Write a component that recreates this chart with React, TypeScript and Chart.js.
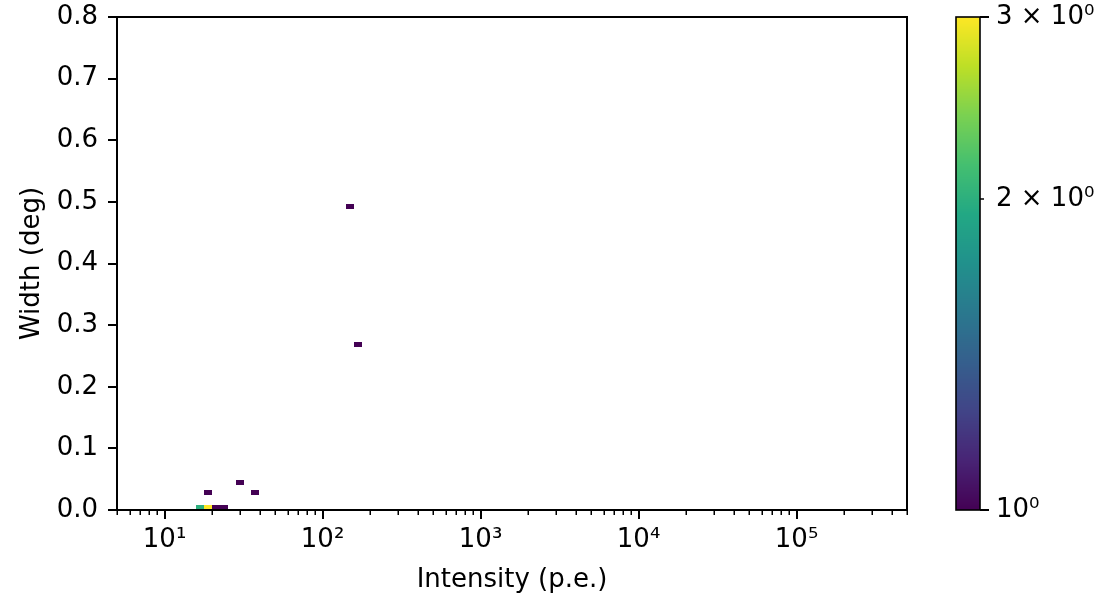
import React, { useEffect, useRef } from "react";
import { Chart, registerables } from "chart.js";

Chart.register(...registerables);

// ---- Data: 2D histogram cells (non-empty bins) ----
const intensityLow = [15.8, 17.8, 19.9, 22.4, 17.8, 28.2, 35.5, 141, 158];
const intensityHigh = [17.8, 19.9, 22.4, 25.1, 19.9, 31.6, 39.8, 158, 178];
const widthLow = [0, 0, 0, 0, 0.024, 0.04, 0.024, 0.488, 0.264];
const widthHigh = [0.008, 0.008, 0.008, 0.008, 0.032, 0.048, 0.032, 0.496, 0.272];
const counts = [2, 3, 1, 1, 1, 1, 1, 1, 1];

// ---- Axes ----
const xMin = 5;
const xMax = 500000;
const yMin = 0;
const yMax = 0.8;
const xMajorTicks = [10, 100, 1000, 10000, 100000];
const xTickLabels = ["10¹", "10²", "10³", "10⁴", "10⁵"];
const yTicks = [0, 0.1, 0.2, 0.3, 0.4, 0.5, 0.6, 0.7, 0.8];
const yTickLabels = ["0.0", "0.1", "0.2", "0.3", "0.4", "0.5", "0.6", "0.7", "0.8"];
const cMin = 1;
const cMax = 3;
const cbarTicks = [1, 2, 3];
const cbarTickLabels = ["10⁰", "2 × 10⁰", "3 × 10⁰"];
const xTitle = "Intensity (p.e.)";
const yTitle = "Width (deg)";

const FONT = "'DejaVu Sans', 'Liberation Sans', sans-serif";
const FS = 26;

const VIRIDIS = [
  "#440154", "#482475", "#414487", "#355f8d", "#2a788e", "#21918c",
  "#22a884", "#44bf70", "#7ad151", "#bddf26", "#fde725",
];
function hexToRgb(h: string) {
  return [parseInt(h.slice(1, 3), 16), parseInt(h.slice(3, 5), 16), parseInt(h.slice(5, 7), 16)];
}
function viridis(t: number) {
  const tt = Math.max(0, Math.min(1, t));
  const s = tt * (VIRIDIS.length - 1);
  const i = Math.min(VIRIDIS.length - 2, Math.floor(s));
  const f = s - i;
  const a = hexToRgb(VIRIDIS[i]);
  const b = hexToRgb(VIRIDIS[i + 1]);
  const c = a.map((v, k) => Math.round(v + (b[k] - v) * f));
  return `rgb(${c[0]},${c[1]},${c[2]})`;
}
function norm(v: number) {
  return Math.log(v / cMin) / Math.log(cMax / cMin);
}

function minorLogTicks(min: number, max: number) {
  const out: number[] = [];
  for (let d = Math.floor(Math.log10(min)); d <= Math.ceil(Math.log10(max)); d++) {
    for (let k = 2; k <= 9; k++) {
      const v = k * Math.pow(10, d);
      if (v >= min && v <= max) out.push(v);
    }
  }
  return out;
}

function zeroPad(s: any) {
  s.paddingTop = 0;
  s.paddingBottom = 0;
  s.paddingLeft = 0;
  s.paddingRight = 0;
}

const heatPlugin = {
  id: "heat",
  beforeDatasetsDraw(chart: any) {
    const { ctx, chartArea, scales } = chart;
    const x = scales.x;
    const y = scales.y;
    ctx.save();
    ctx.beginPath();
    ctx.rect(chartArea.left, chartArea.top, chartArea.right - chartArea.left, chartArea.bottom - chartArea.top);
    ctx.clip();
    for (let i = 0; i < counts.length; i++) {
      const x0 = Math.round(x.getPixelForValue(intensityLow[i]));
      const x1 = Math.round(x.getPixelForValue(intensityHigh[i]));
      const y0 = Math.round(y.getPixelForValue(widthHigh[i]));
      const y1 = Math.round(y.getPixelForValue(widthLow[i]));
      ctx.fillStyle = viridis(norm(counts[i]));
      ctx.fillRect(x0, y0, x1 - x0, y1 - y0);
    }
    ctx.restore();
  },
  afterDraw(chart: any) {
    const { ctx, chartArea, scales } = chart;
    const x = scales.x;
    const y = scales.y;
    ctx.save();
    ctx.strokeStyle = "#000";
    ctx.lineWidth = 2;
    for (const v of xMajorTicks) {
      const px = Math.round(x.getPixelForValue(v));
      ctx.beginPath();
      ctx.moveTo(px, chartArea.bottom);
      ctx.lineTo(px, chartArea.bottom + 9);
      ctx.stroke();
    }
    for (const v of yTicks) {
      const py = Math.round(y.getPixelForValue(v));
      ctx.beginPath();
      ctx.moveTo(chartArea.left, py);
      ctx.lineTo(chartArea.left - 9, py);
      ctx.stroke();
    }
    ctx.lineWidth = 1.5;
    for (const v of minorLogTicks(xMin, xMax)) {
      if (xMajorTicks.includes(v)) continue;
      const px = Math.round(x.getPixelForValue(v)) + 0.25;
      ctx.beginPath();
      ctx.moveTo(px, chartArea.bottom);
      ctx.lineTo(px, chartArea.bottom + 5);
      ctx.stroke();
    }
    ctx.lineWidth = 2;
    ctx.strokeRect(chartArea.left, chartArea.top, chartArea.right - chartArea.left, chartArea.bottom - chartArea.top);
    ctx.restore();
  },
};

const cbarPlugin = {
  id: "cbar",
  beforeDatasetsDraw(chart: any) {
    const { ctx, chartArea, scales } = chart;
    const y = scales.y;
    ctx.save();
    for (let py = Math.floor(chartArea.top); py < chartArea.bottom; py++) {
      const v = y.getValueForPixel(py + 0.5);
      ctx.fillStyle = viridis(norm(v));
      ctx.fillRect(chartArea.left, py, chartArea.right - chartArea.left, 1);
    }
    ctx.restore();
  },
  afterDraw(chart: any) {
    const { ctx, chartArea, scales } = chart;
    const y = scales.y;
    ctx.save();
    ctx.strokeStyle = "#000";
    cbarTicks.forEach((v, i) => {
      const py = Math.round(y.getPixelForValue(v));
      const len = i === 1 ? 4 : 9;
      ctx.lineWidth = i === 1 ? 1.5 : 2;
      ctx.beginPath();
      ctx.moveTo(chartArea.right, py);
      ctx.lineTo(chartArea.right + len, py);
      ctx.stroke();
    });
    ctx.lineWidth = 1.6;
    ctx.strokeRect(chartArea.left, chartArea.top, chartArea.right - chartArea.left, chartArea.bottom - chartArea.top);
    ctx.restore();
  },
};

export default function App() {
  const mainRef = useRef<HTMLCanvasElement>(null);
  const cbarRef = useRef<HTMLCanvasElement>(null);

  useEffect(() => {
    const font = { family: FONT, size: FS };
    const main = new Chart(mainRef.current as HTMLCanvasElement, {
      type: "scatter",
      data: { datasets: [] },
      plugins: [heatPlugin],
      options: {
        animation: false,
        responsive: false,
        devicePixelRatio: 1,
        layout: { padding: { top: 17, right: 23, left: 0, bottom: 0 } },
        plugins: { legend: { display: false }, tooltip: { enabled: false } },
        scales: {
          x: {
            type: "logarithmic",
            position: "bottom",
            min: xMin,
            max: xMax,
            grid: { display: false, drawTicks: false },
            border: { display: false },
            afterBuildTicks: (s: any) => {
              s.ticks = xMajorTicks.map((v) => ({ value: v }));
            },
            afterFit: (s: any) => {
              s.height = 90;
              zeroPad(s);
            },
            ticks: {
              autoSkip: false,
              maxRotation: 0,
              minRotation: 0,
              padding: 15,
              color: "#000",
              font,
              callback: (_v: any, i: number) => xTickLabels[i],
            },
            title: {
              display: true,
              text: xTitle,
              color: "#000",
              font,
              padding: { top: 0, bottom: 4 },
            },
          },
          y: {
            type: "linear",
            position: "left",
            min: yMin,
            max: yMax,
            grid: { display: false, drawTicks: false },
            border: { display: false },
            afterBuildTicks: (s: any) => {
              s.ticks = yTicks.map((v) => ({ value: v }));
            },
            afterFit: (s: any) => {
              s.width = 117;
              zeroPad(s);
            },
            ticks: {
              autoSkip: false,
              padding: 19,
              color: "#000",
              font,
              callback: (_v: any, i: number) => yTickLabels[i],
            },
            title: {
              display: true,
              text: yTitle,
              color: "#000",
              font,
              padding: { top: 17, bottom: 0 },
            },
          },
        },
      },
    } as any);

    const cbar = new Chart(cbarRef.current as HTMLCanvasElement, {
      type: "scatter",
      data: { datasets: [] },
      plugins: [cbarPlugin],
      options: {
        animation: false,
        responsive: false,
        devicePixelRatio: 1,
        layout: { padding: { top: 17, right: 0, left: 26, bottom: 90 } },
        plugins: { legend: { display: false }, tooltip: { enabled: false } },
        scales: {
          x: { display: false },
          y: {
            type: "logarithmic",
            position: "right",
            min: cMin,
            max: cMax,
            grid: { display: false, drawTicks: false },
            border: { display: false },
            afterBuildTicks: (s: any) => {
              s.ticks = cbarTicks.map((v) => ({ value: v }));
            },
            afterFit: (s: any) => {
              s.width = 124;
              zeroPad(s);
            },
            ticks: {
              autoSkip: false,
              padding: 16,
              color: "#000",
              font,
              callback: (_v: any, i: number) => cbarTickLabels[i],
            },
          },
        },
      },
    } as any);

    return () => {
      main.destroy();
      cbar.destroy();
    };
  }, []);

  return (
    <div style={{ position: "absolute", left: 0, top: 0, width: 1104, height: 600, background: "#fff" }}>
      <canvas ref={mainRef} width={930} height={600} style={{ position: "absolute", left: 0, top: 0 }} />
      <canvas ref={cbarRef} width={174} height={600} style={{ position: "absolute", left: 930, top: 0 }} />
    </div>
  );
}
